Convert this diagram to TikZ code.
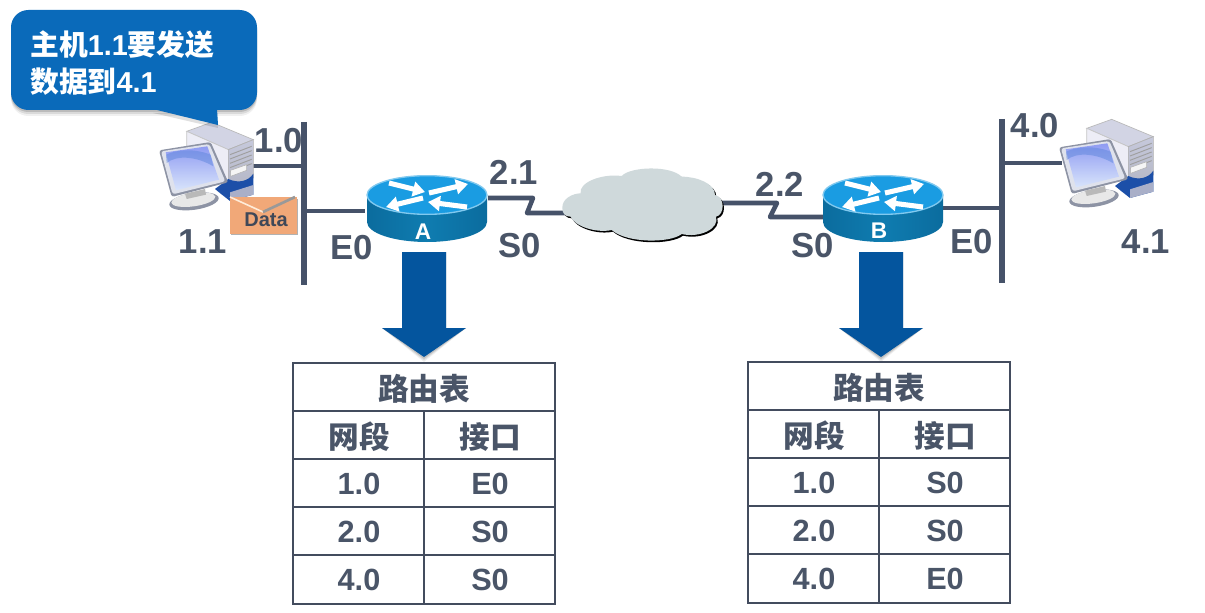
\documentclass[tikz,border=0pt]{standalone}
\usepackage{fontspec}
\setmainfont{Liberation Sans}
\newfontfamily\cjk{Noto Sans CJK SC}
\usetikzlibrary{arrows.meta}
\definecolor{ink}{HTML}{4A5568}
\definecolor{bus}{HTML}{465269}
\definecolor{blueA}{HTML}{0A6ABA}
\definecolor{arrowblue}{HTML}{04559E}
\definecolor{cloudgray}{HTML}{CFD9DB}
\definecolor{rtop}{HTML}{1A9CE2}
\definecolor{rside}{HTML}{0F7CB0}
\definecolor{rsidedark}{HTML}{0B6C9E}
\definecolor{envelope}{HTML}{F1A878}
\definecolor{towerface}{HTML}{C6C9DC}
\definecolor{towertop}{HTML}{D2D4E4}
\definecolor{towerleft}{HTML}{EDEDF6}
\definecolor{monframe}{HTML}{DFE2EC}
\definecolor{monedge}{HTML}{8D93A4}
\definecolor{scrtop}{HTML}{8F9BF2}
\definecolor{scrlow}{HTML}{D8E4FB}
\definecolor{scrdeep}{HTML}{5E86DC}
\definecolor{basecol}{HTML}{1C4FA8}
\definecolor{basegrey}{HTML}{A9AFC8}
\newcommand{\bigtxt}{\bfseries\fontsize{26}{30}\selectfont}
\newcommand{\tabtxt}{\bfseries\fontsize{23}{28}\selectfont}
\tikzset{
  x=0.75pt,y=-0.75pt,
  lbl/.style={text=ink,font=\bigtxt,inner sep=0pt,anchor=center},
  cell/.style={text=ink,font=\tabtxt,inner sep=0pt,anchor=center},
  link/.style={draw=bus,line width=3.4pt,line join=miter},
  busbar/.style={draw=bus,line width=4pt},
  grid/.style={draw=ink!90!black,line width=1.2pt},
  rarrow/.style={draw=white,line width=3.8pt,-{Triangle[length=9pt,width=11pt]}},
  routerpic/.pic={
    \path[left color=rsidedark,right color=rsidedark,middle color=rside]
      (-60,0) -- (-60,27) arc[start angle=180,end angle=360,x radius=45pt,y radius=15pt]
      -- (60,0) -- cycle;
    \fill[rtop,draw=rtop!55!white,line width=1pt] (0,0) ellipse[x radius=45pt,y radius=14.5pt];
    \draw[rarrow] (-38,-12) -- (-2,-3);
    \draw[rarrow] (2,-2) -- (41,-11);
    \draw[rarrow] (-4,3) -- (-41,12);
    \draw[rarrow] (40,12) -- (1,7);
  },
  computerpic/.pic={
    \begin{scope}[scale=1/3,shift={(450,339)}]
      % tower
      \fill[towertop,draw=gray!55,line width=.5pt] (110,55) -- (185,28) -- (310,80) -- (235,110) -- cycle;
      \fill[towerleft,draw=gray!45,line width=.5pt] (110,55) -- (235,110) -- (235,215) -- (110,170) -- cycle;
      \shade[top color=towerface,bottom color=towerface!75!gray,draw=gray!60,line width=.5pt] (235,110) -- (310,80) -- (310,195) -- (235,225) -- cycle;
      \foreach \k in {0,1,2,3,4}
        \draw[gray!75,line width=.7pt] (240,{125+\k*13}) -- (305,{100+\k*13});
      \fill[white!92!gray,draw=gray!60,line width=.4pt] (242,172) -- (290,155) -- (290,172) -- (242,190) -- cycle;
      % blue base
      \fill[basecol] (195,228) -- (235,198) .. controls (265,212) and (295,205) .. (310,182) -- (310,245) -- (240,264) -- (212,242) -- cycle;
      \fill[basegrey] (240,238) -- (310,216) -- (310,245) -- (240,264) -- cycle;
      % monitor foot
      \fill[monedge] (132,265) ellipse[x radius=56pt,y radius=19pt,rotate=8];
      \fill[gray!18] (130,260) ellipse[x radius=50pt,y radius=15pt,rotate=8];
      \fill[gray!55] (105,242) -- (165,228) -- (168,245) -- (110,258) -- cycle;
      % monitor
      \fill[monedge,rounded corners=2pt] (27,112) -- (182,87) -- (235,208) -- (65,252) -- cycle;
      \fill[monframe,rounded corners=2pt] (33,115) -- (178,93) -- (226,205) -- (68,244) -- cycle;
      \shade[top color=scrtop,bottom color=scrlow] (47,118) -- (172,100) -- (207,200) -- (78,232) -- cycle;
      \fill[scrdeep,opacity=.5] (50,150) .. controls (80,125) and (140,130) .. (190,160) -- (182,125) .. controls (130,105) and (80,110) .. (48,125) -- cycle;
    \end{scope}
  },
}
\newcommand{\routetable}[7]{%
  \begin{scope}[shift={(#2,#3)}]
    \draw[grid] (0,0) rectangle (262,241);
    \foreach \yy in {48,96,144,192} \draw[grid] (0,\yy) -- (262,\yy);
    \draw[grid] (131,48) -- (131,241);
    \node[cell] (#1title) at (131,26) {\cjk 路由表};
    \node[cell] (#1head1) at (66,74) {\cjk 网段};
    \node[cell] (#1head2) at (197,74) {\cjk 接口};
    \node[cell] (#1net1) at (66,121) {1.0};
    \node[cell] (#1net2) at (66,169) {2.0};
    \node[cell] (#1net3) at (66,217) {4.0};
    \node[cell] (#1if1) at (197,121) {#4};
    \node[cell] (#1if2) at (197,169) {#5};
    \node[cell] (#1if3) at (197,217) {#6};
  \end{scope}}
\newcommand{\downarrowshape}[1]{%
  \begin{scope}[shift={(#1,0)}]
    \foreach \o/\w in {5/.06,3.5/.08,2/.12}
      \fill[black,opacity=\w] (-22,252) -- (22,252) -- (22,328) -- (42,328) -- (0,{357+\o}) -- (-42,328) -- (-22,328) -- cycle;
    \fill[arrowblue] (-22,252) -- (22,252) -- (22,328) -- (42,328) -- (0,357) -- (-42,328) -- (-22,328) -- cycle;
  \end{scope}}
\begin{document}
\begin{tikzpicture}
\useasboundingbox (0,0) rectangle (1205,613);
\fill[white] (0,0) rectangle (1205,613);
% anchors
\coordinate (busAtop) at (304,122);
\coordinate (busAbot) at (304,285);
\coordinate (busBtop) at (1002,119);
\coordinate (busBbot) at (1002,283);
\coordinate (hostA) at (253,166);
\coordinate (hostAbus) at (304,166);
\coordinate (hostB) at (1062,163);
\coordinate (hostBbus) at (1002,163);
\coordinate (rA) at (427,195);
\coordinate (rB) at (883,195);
\coordinate (rAw) at (365,211);
\coordinate (busAr) at (304,211);
\coordinate (rBe) at (943,208);
\coordinate (busBl) at (1002,208);
\coordinate (rAs) at (488,198);
\coordinate (cl) at (575,213);
\coordinate (cr) at (722,203);
\coordinate (rBs) at (825,217);
% buses and links
\draw[busbar] (busAtop) -- (busAbot);
\draw[busbar] (busBtop) -- (busBbot);
\draw[link] (hostA) -- (hostAbus);
\draw[link] (hostBbus) -- (hostB);
\draw[link] (busAr) -- (rAw);
\draw[link] (rBe) -- (busBl);
\draw[link,line join=round] (rAs) -- (533,198) -- (527,213) -- (cl);
\draw[link,line join=round] (cr) -- (777,203) -- (770,217) -- (rBs);
% computers
\pic at (0,0) {computerpic};
\pic at (900,-3) {computerpic};
% cloud
\begin{scope}[shift={(550,160)},scale=1/3]
  \def\cloudpath{(37,145) .. controls (35,115) and (70,100) .. (92,100)
    .. controls (85,70) and (150,40) .. (215,48)
    .. controls (240,20) and (360,15) .. (395,50)
    .. controls (440,50) and (495,70) .. (495,105)
    .. controls (525,110) and (525,165) .. (498,170)
    .. controls (510,205) and (450,235) .. (395,222)
    .. controls (360,250) and (230,250) .. (185,210)
    .. controls (140,220) and (75,200) .. (62,170)
    .. controls (45,170) and (37,160) .. (37,145) -- cycle}
  \fill[black,shift={(4,5)}] \cloudpath;
  \fill[cloudgray] \cloudpath;
\end{scope}
% routers
\pic at (rA) {routerpic};
\pic at (rB) {routerpic};
\node[text=white,font=\bfseries\fontsize{17}{20}\selectfont,inner sep=0pt] (nameA) at (423,232) {A};
\node[text=white,font=\bfseries\fontsize{17}{20}\selectfont,inner sep=0pt] (nameB) at (879,231) {B};
% callout
\foreach \o/\w in {6/.06,4/.09,2/.14}
  \fill[black,opacity=\w,rounded corners=13pt] (11,{10+\o}) rectangle (257,{110+\o});
\fill[black,opacity=.12] (153,113) -- (218,128) -- (217,110) -- cycle;
\fill[blueA] (153,109) -- (218,125) -- (217,109) -- cycle;
\fill[blueA,rounded corners=13pt] (11,10) rectangle (257,110);
\node[text=white,font=\bfseries\fontsize{21.6}{27}\selectfont,inner sep=0pt,anchor=west] (call1) at (30,45) {{\cjk 主机}1.1{\cjk 要发送}};
\node[text=white,font=\bfseries\fontsize{21.6}{27}\selectfont,inner sep=0pt,anchor=west] (call2) at (30,82) {{\cjk 数据到}4.1};
% data envelope
\fill[gray!60] (231,199) rectangle (298,235);
\fill[envelope] (230,197) rectangle (297,234);
\draw[white!85!orange,line width=1.2pt] (230,197) -- (263,212);
\draw[gray!80,line width=2pt] (263,212) -- (295,197);
\node[text=ink!85!black,font=\bfseries\fontsize{15}{17}\selectfont,inner sep=0pt] (data) at (266,220) {Data};
% labels
\node[lbl] (l10) at (279,141) {1.0};
\node[lbl] (l11) at (203,242) {1.1};
\node[lbl] (lE0a) at (352,248) {E0};
\node[lbl] (l21) at (514,172) {2.1};
\node[lbl] (lS0a) at (520,246) {S0};
\node[lbl] (l22) at (780,184) {2.2};
\node[lbl] (lS0b) at (813,246) {S0};
\node[lbl] (lE0b) at (972,242) {E0};
\node[lbl] (l40) at (1035,126) {4.0};
\node[lbl] (l41) at (1146,242) {4.1};
% arrows
\downarrowshape{424}
\downarrowshape{881}
% tables
\routetable{ta}{293}{363}{E0}{S0}{S0}{}
\routetable{tb}{748}{362}{S0}{S0}{E0}{}
\end{tikzpicture}
\end{document}
